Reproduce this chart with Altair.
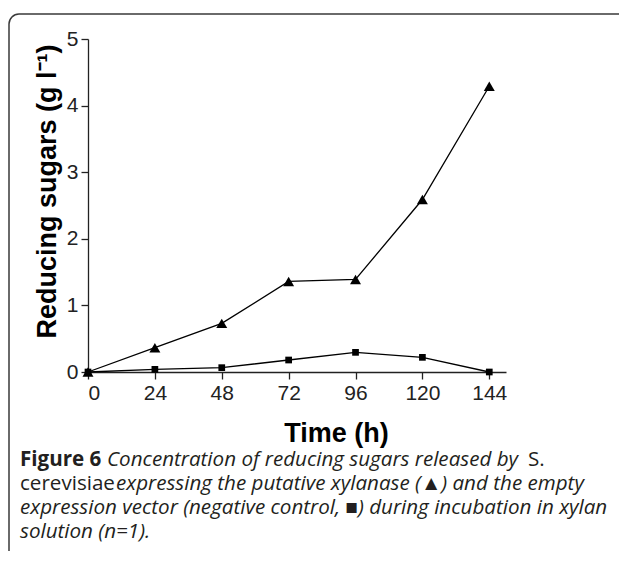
import altair as alt
import pandas as pd

# ---- data ----
hours = [0, 24, 48, 72, 96, 120, 144]
xylanase = [0.0, 0.365, 0.73, 1.36, 1.39, 2.59, 4.29]
control = [0.0, 0.04, 0.065, 0.18, 0.295, 0.22, 0.0]
x_ticks = [0, 24, 48, 72, 96, 120, 144]
y_ticks = [0, 1, 2, 3, 4, 5]

series_names = ["xylanase", "control"]

rows = []
for h, v in zip(hours, xylanase):
    rows.append({"hours": h, "value": v, "series": series_names[0]})
for h, v in zip(hours, control):
    rows.append({"hours": h, "value": v, "series": series_names[1]})
df = pd.DataFrame(rows)

AXIS_FONT = "Liberation Sans"
CAP_FONT = "Open Sans"
INK = "#231f20"
CAP_SIZE = 20.6

x_enc = alt.X("hours:Q",
              scale=alt.Scale(domain=[0, 150], nice=False, zero=False),
              axis=alt.Axis(values=x_ticks, title="Time (h)", format="d",
                            titleX=248, titleY=69, titleBaseline="alphabetic",
                            titleAnchor="start", titleAlign="center"))
y_enc = alt.Y("value:Q",
              scale=alt.Scale(domain=[0, 5], nice=False),
              axis=alt.Axis(values=y_ticks, title="Reducing sugars (g l⁻¹)", format="d",
                            titleX=-41, titleY=152, titleBaseline="middle",
                            titleAnchor="start", titleAlign="center", titleAngle=-90))

lines = alt.Chart(df).mark_line(color="black", strokeWidth=1.3).encode(
    x=x_enc, y=y_enc, detail="series:N")

points = alt.Chart(df).mark_point(filled=True, color="black", opacity=1).encode(
    x="hours:Q", y="value:Q",
    shape=alt.Shape("series:N", legend=None,
                    scale=alt.Scale(domain=series_names, range=["triangle-up", "square"])),
    size=alt.Size("series:N", legend=None,
                  scale=alt.Scale(domain=series_names, range=[120, 45])))


def txt(s, x, y, weight="normal", style="normal", size=CAP_SIZE, font=CAP_FONT):
    return alt.Chart(alt.Data(values=[{"t": s}])).mark_text(
        align="left", baseline="alphabetic", font=font, fontSize=size,
        fontWeight=weight, fontStyle=style, color=INK
    ).encode(x=alt.value(x), y=alt.value(y), text="t:N")


# caption (positions relative to plot origin)
cap = [
    txt("Figure 6", -68, 427, weight="bold"),
    txt("Concentration of reducing sugars released by", 19, 427, style="italic"),
    txt("S.", 440, 427),
    txt("cerevisiae", -68, 451),
    txt("expressing the putative xylanase (▲) and the empty", 28, 451, style="italic"),
    txt("expression vector (negative control, ■) during incubation in xylan", -68, 475, style="italic"),
    txt("solution (n=1).", -68, 499, style="italic"),
]

border = alt.Chart(alt.Data(values=[{"a": 1}])).mark_rect(
    fill=None, stroke="#3a3a3a", strokeWidth=1.5, cornerRadius=10
).encode(x=alt.value(-79), x2=alt.value(560), y=alt.value(-25), y2=alt.value(600))

chart = alt.layer(border, lines, points, *cap).properties(
    width=418, height=333,
    autosize=alt.AutoSizeParams(type="none"),
    padding={"left": 80, "top": 31, "right": 113, "bottom": 179},
).configure_view(stroke=None).configure_axis(
    grid=False, domainColor="#222", domainWidth=1.3, tickColor="#222", tickWidth=1.3,
    tickSize=7, labelFont=AXIS_FONT, labelFontSize=21, labelColor="#222",
    titleFont=AXIS_FONT, titleFontSize=27, titleFontWeight="bold", titleColor="#000",
    labelPadding=3,
)

chart.save("out.html", embed_options={"renderer": "svg", "actions": False})
